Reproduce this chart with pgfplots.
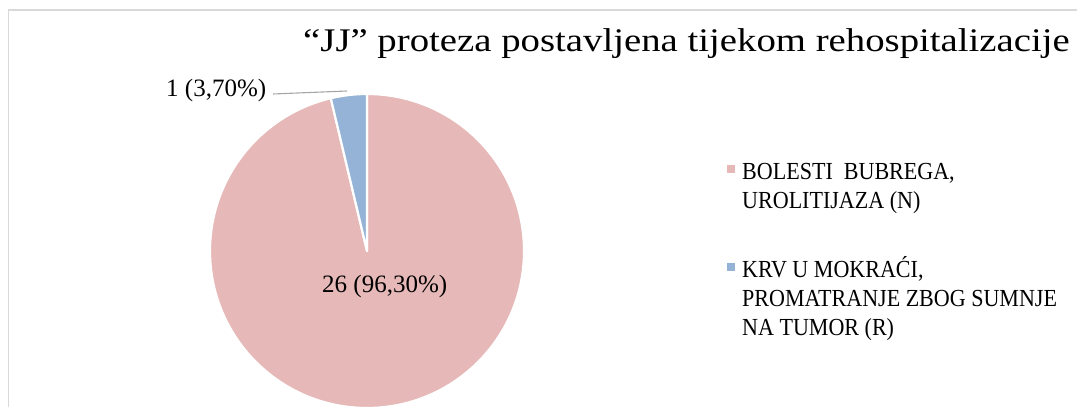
\documentclass[border=0pt]{standalone}
\usepackage{pgfplots}
\pgfplotsset{compat=1.18}
\usepackage{pgfplotstable}
\usepackage{fontspec}
\setmainfont{Liberation Serif}
\newfontfamily\titlefont[FakeStretch=1.175]{Liberation Serif}
\newfontfamily\legfont[FakeStretch=0.9]{Liberation Serif}
\definecolor{piepink}{HTML}{E6B9B8}
\definecolor{pieblue}{HTML}{95B3D7}
\definecolor{framegray}{HTML}{D9D9D9}
\definecolor{leadgray}{HTML}{A6A6A6}
\pgfplotstableread{
label value
N 26
R 1
}\piedata
\begin{document}
\begin{tikzpicture}
\pgfplotstablegetelem{0}{value}\of\piedata \let\va\pgfplotsretval
\pgfplotstablegetelem{1}{value}\of\piedata \let\vb\pgfplotsretval
\pgfmathsetmacro{\angA}{90-360*\va/(\va+\vb)}
\begin{axis}[
  width=1077pt, height=407pt, scale only axis,
  xmin=0, xmax=1077, ymin=0, ymax=407,
  hide axis, clip=true,
]
% frame
\draw[framegray, line width=1.2pt] (axis cs:8.5,0) -- (axis cs:8.5,397) -- (axis cs:1077,397);
% pie slices
\fill[piepink, draw=white, line width=2.2pt, line join=round]
  (axis cs:367,156) -- ++(90:157pt) arc[start angle=90, end angle=\angA, radius=157pt] -- cycle;
\fill[pieblue, draw=white, line width=2.2pt, line join=round]
  (axis cs:367,156) -- ++(\angA:157pt) arc[start angle=\angA, end angle=-270, radius=157pt] -- cycle;
% leader line
\draw[leadgray, line width=1.1pt] (axis cs:273,313) -- (axis cs:347,316);
% labels
\node[anchor=base west, inner sep=0pt, font=\fontsize{25}{28}\selectfont] at (axis cs:166,310) {1 (3,70\%)};
\node[anchor=base west, inner sep=0pt, font=\fontsize{25}{28}\selectfont] at (axis cs:322,114) {26 (96,30\%)};
% title
\node[anchor=base west, inner sep=0pt, font=\titlefont\fontsize{33}{36}\selectfont] at (axis cs:303,355) {“JJ” proteza postavljena tijekom rehospitalizacije};
% legend
\fill[piepink] (axis cs:727,234) rectangle (axis cs:735,242);
\fill[pieblue] (axis cs:727,136) rectangle (axis cs:735,144);
\node[anchor=base west, inner sep=0pt, font=\legfont\fontsize{24.5}{28}\selectfont] at (axis cs:742,227) {BOLESTI\ \ BUBREGA,};
\node[anchor=base west, inner sep=0pt, font=\legfont\fontsize{24.5}{28}\selectfont] at (axis cs:742,198) {UROLITIJAZA (N)};
\node[anchor=base west, inner sep=0pt, font=\legfont\fontsize{24.5}{28}\selectfont] at (axis cs:742,129) {KRV U MOKRAĆI,};
\node[anchor=base west, inner sep=0pt, font=\legfont\fontsize{24.5}{28}\selectfont] at (axis cs:742,100) {PROMATRANJE ZBOG SUMNJE};
\node[anchor=base west, inner sep=0pt, font=\legfont\fontsize{24.5}{28}\selectfont] at (axis cs:742,71) {NA TUMOR (R)};
\end{axis}
\pgfresetboundingbox
\path[use as bounding box] (current axis.south west) rectangle (current axis.north east);
\end{tikzpicture}
\end{document}
